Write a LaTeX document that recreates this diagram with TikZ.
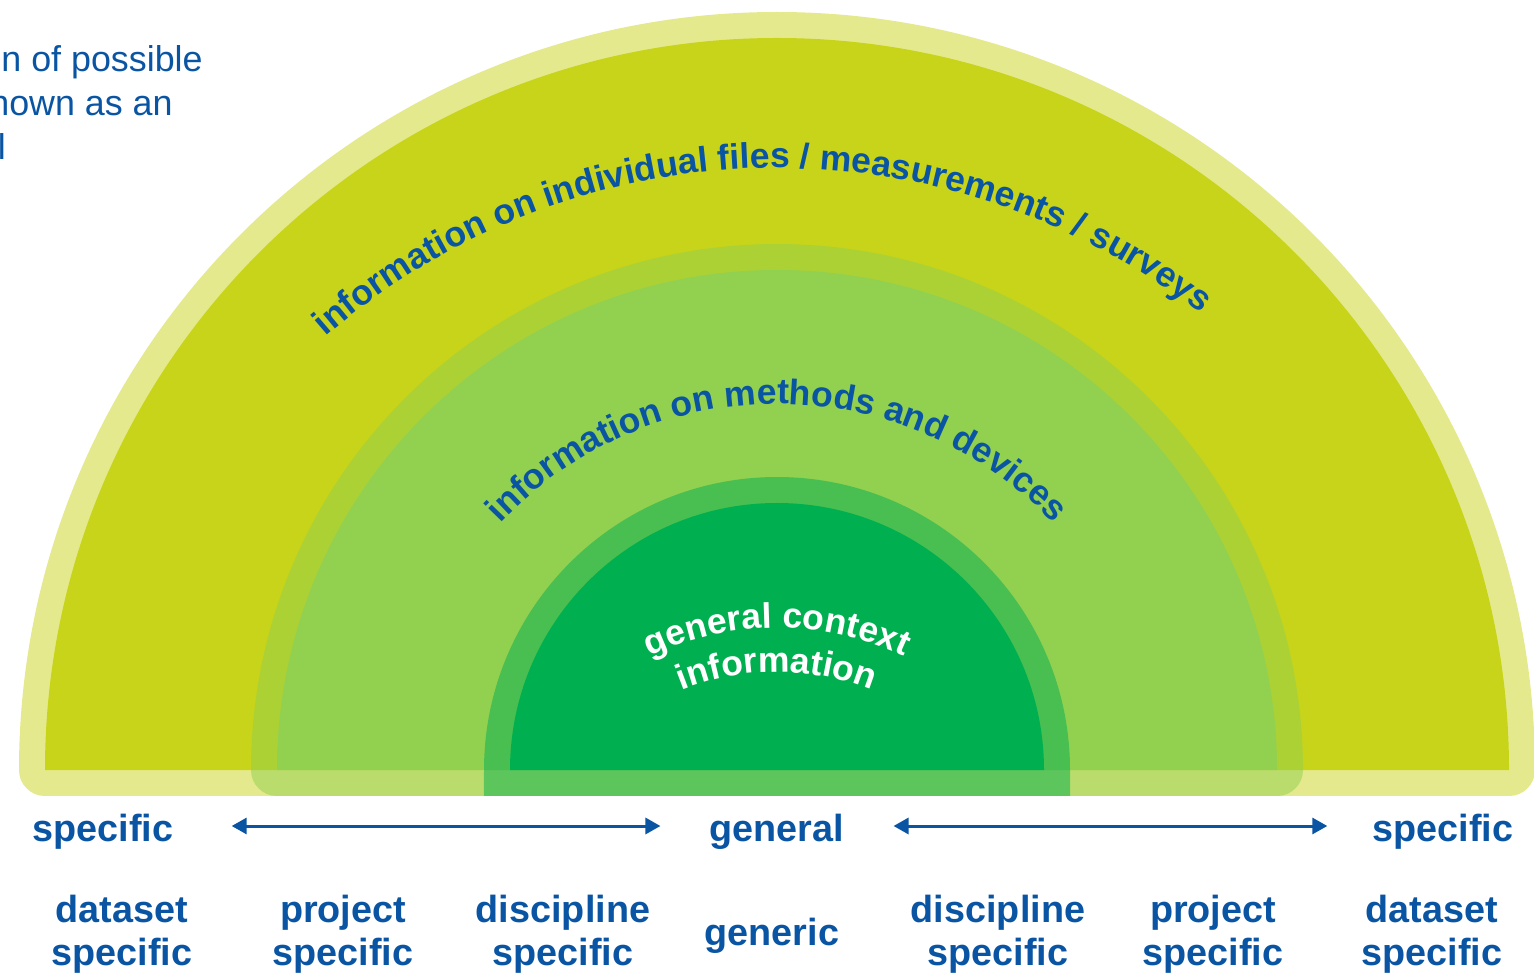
\documentclass[tikz,border=0pt]{standalone}
\usepackage{fontspec}
\setmainfont{Liberation Sans}
\usetikzlibrary{arrows.meta, positioning, decorations.text}
\definecolor{mdouter}{HTML}{C8D419}
\definecolor{mdmiddle}{HTML}{92D050}
\definecolor{mdinner}{HTML}{00B050}
\definecolor{mdblue}{HTML}{0A55A3}
\newcommand\arcfont{\fontsize{20.2}{24}\selectfont\bfseries}
\newcommand\corefont{\fontsize{20.2}{24}\selectfont\bfseries}

\begin{document}
\begin{tikzpicture}[
    x=0.02cm, y=0.02cm,
    layer/.style={fill=#1, draw=#1, draw opacity=0.5, line width=1.04cm, line join=round},
    lbl/.style={font=\fontsize{21.5}{24.4}\selectfont\bfseries, text=mdblue,
                inner sep=0pt, align=center, anchor=base},
    note/.style={font=\fontsize{20.4}{25}\selectfont, text=mdblue, inner sep=0pt},
    bent/.style={decorate, decoration={text along path, text align=center, text color=#1}},
    twoway/.style={{Triangle[length=0.3cm, width=0.32cm]}-{Triangle[length=0.3cm, width=0.32cm]},
                   line width=0.06cm, mdblue}
  ]
    \useasboundingbox (0,0) rectangle (1534,974);
    \clip (0,0) rectangle (1534,974);
    \coordinate (base) at (777,204);

    % nested half discs
    \filldraw[layer=mdouter] ([shift={(180:732)}]base) arc[start angle=180, end angle=0, radius=732] -- cycle;
    \filldraw[layer=mdmiddle] ([shift={(180:500)}]base) arc[start angle=180, end angle=0, radius=500] -- cycle;
    \filldraw[layer=mdinner, line join=miter] ([shift={(180:267)}]base) arc[start angle=180, end angle=0, radius=267] -- cycle;

    % curved texts
    \path[bent=mdblue, decoration={text={|\arcfont|information on individual files / measurements / surveys}}]
      ([shift={(141.5:688)}]777,118) arc[start angle=141.5, end angle=41.5, radius=688];
    \path[bent=mdblue, decoration={text={|\arcfont|information on methods and devices}}]
      ([shift={(140:380)}]777,190) arc[start angle=140, end angle=40, radius=380];
    \path[bent=white, decoration={text={|\corefont|general context}}]
      ([shift={(125:300)}]777,46) arc[start angle=125, end angle=55, radius=300];
    \path[bent=white, decoration={text={|\corefont|information}}]
      ([shift={(125:256)}]777,46) arc[start angle=125, end angle=55, radius=256];

    % cut-off note
    \node[note, anchor=base east] (note1) at (203,902) {n of possible};
    \node[note, anchor=base east] (note2) at (173,858) {hown as an};
    \node[note, anchor=base west] (note3) at (-2.4,814) {l};

    % scale
    \node[lbl] (specL) at (103,133) {specific};
    \node[lbl] (gen) at (777,133) {general};
    \node[lbl] (specR) at (1443,133) {specific};

    \node[lbl] (dataL) at (122,9) {dataset\\specific};
    \node[lbl] (projL) at (343,9) {project\\specific};
    \node[lbl] (discL) at (563,9) {discipline\\specific};
    \node[lbl] (generic) at (772,29) {generic};
    \node[lbl] (discR) at (998,9) {discipline\\specific};
    \node[lbl] (projR) at (1213,9) {project\\specific};
    \node[lbl] (dataR) at (1432,9) {dataset\\specific};

    \draw[twoway] ([shift={(58,15)}]specL.base east) -- ([shift={(-49,15)}]gen.base west);
    \draw[twoway] ([shift={(49,15)}]gen.base east) -- ([shift={(-45,15)}]specR.base west);
  \end{tikzpicture}
\end{document}
